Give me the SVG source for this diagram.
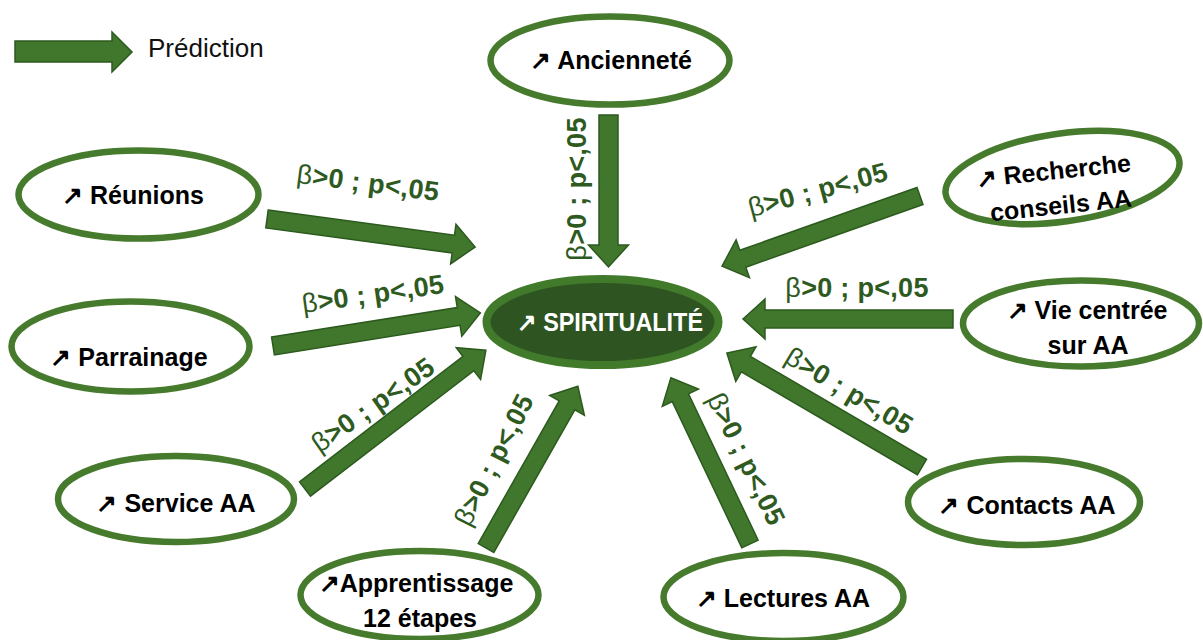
<svg xmlns="http://www.w3.org/2000/svg" width="1203" height="640" viewBox="0 0 1203 640">
<style>
.node{fill:#ffffff;stroke:#467a2c;stroke-width:6.5}
.center{fill:#2d5421;stroke:#427a2c;stroke-width:8}
.arr{fill:#41772c;stroke:#2c5a1e;stroke-width:1.5;stroke-linejoin:miter}
.nt{font-family:"Liberation Sans",Arial,sans-serif;font-weight:bold;font-size:25px;fill:#000;text-anchor:middle;dominant-baseline:central}
.ct{font-family:"Liberation Sans",Arial,sans-serif;font-weight:bold;font-size:25px;fill:#fff;text-anchor:middle;dominant-baseline:central}
.lb{font-family:"Liberation Sans",Arial,sans-serif;font-weight:bold;font-size:27px;fill:#2e5a1f;text-anchor:middle;dominant-baseline:central;letter-spacing:0.3px}
.beta{font-weight:normal}
.leg{font-family:"Liberation Sans",Arial,sans-serif;font-size:26px;fill:#111}
</style>
<rect width="1203" height="640" fill="#ffffff"/>

<g id="legend">
<path class="arr" d="M15,41 L112,41 L112,32 L132,52 L112,72 L112,62 L15,62 Z"/>
<text class="leg" x="148" y="57">Prédiction</text>
</g>

<g id="connectors">
<!-- Ancienneté -->
<path class="arr" transform="translate(608.5,115) rotate(90)" d="M0,-9.5 L130,-9.5 L130,-20 L152,0 L130,20 L130,9.5 L0,9.5 Z"/>
<text class="lb" transform="translate(577,189) rotate(-90)"><tspan class="beta">β</tspan>&gt;0 ; p&lt;,05</text>
<!-- Réunions -->
<path class="arr" transform="translate(267,219) rotate(7.67)" d="M0,-9 L188,-9 L188,-20 L210,0 L188,20 L188,9 L0,9 Z"/>
<text class="lb" transform="translate(368,183) rotate(7.3)"><tspan class="beta">β</tspan>&gt;0 ; p&lt;,05</text>
<!-- Parrainage -->
<path class="arr" transform="translate(273,346) rotate(-9.06)" d="M0,-9 L188,-9 L188,-20 L210,0 L188,20 L188,9 L0,9 Z"/>
<text class="lb" transform="translate(373,294) rotate(-8)"><tspan class="beta">β</tspan>&gt;0 ; p&lt;,05</text>
<!-- Service AA -->
<path class="arr" transform="translate(305,489) rotate(-37.5)" d="M0,-9 L206,-9 L206,-20 L228,0 L206,20 L206,9 L0,9 Z"/>
<text class="lb" transform="translate(373,405) rotate(-35)"><tspan class="beta">β</tspan>&gt;0 ; p&lt;,05</text>
<!-- Apprentissage -->
<path class="arr" transform="translate(486,548) rotate(-60.4)" d="M0,-9 L164,-9 L164,-20 L186,0 L164,20 L164,9 L0,9 Z"/>
<text class="lb" transform="translate(494,460) rotate(-63)"><tspan class="beta">β</tspan>&gt;0 ; p&lt;,05</text>
<!-- Lectures AA -->
<path class="arr" transform="translate(750,544) rotate(-115.45)" d="M0,-9 L162,-9 L162,-20 L184,0 L162,20 L162,9 L0,9 Z"/>
<text class="lb" transform="translate(746,459) rotate(64)"><tspan class="beta">β</tspan>&gt;0 ; p&lt;,05</text>
<!-- Contacts AA -->
<path class="arr" transform="translate(922,467) rotate(-149.7)" d="M0,-9 L204,-9 L204,-20 L226,0 L204,20 L204,9 L0,9 Z"/>
<text class="lb" transform="translate(849,391) rotate(31)"><tspan class="beta">β</tspan>&gt;0 ; p&lt;,05</text>
<!-- Vie centrée -->
<path class="arr" transform="translate(953,319) rotate(180)" d="M0,-9 L188,-9 L188,-20 L210,0 L188,20 L188,9 L0,9 Z"/>
<text class="lb" transform="translate(857,288)"><tspan class="beta">β</tspan>&gt;0 ; p&lt;,05</text>
<!-- Recherche -->
<path class="arr" transform="translate(920,196) rotate(160.5)" d="M0,-9 L188,-9 L188,-20 L210,0 L188,20 L188,9 L0,9 Z"/>
<text class="lb" transform="translate(818,190) rotate(-15)"><tspan class="beta">β</tspan>&gt;0 ; p&lt;,05</text>
</g>

<g id="node-spiritualite">
<ellipse class="center" cx="602.5" cy="322" rx="116" ry="43"/>
<text class="ct" x="610" y="322" textLength="186" lengthAdjust="spacingAndGlyphs">↗ SPIRITUALITÉ</text>
</g>
<g id="node-anciennete">
<ellipse class="node" cx="610" cy="60.5" rx="119.5" ry="44"/>
<text class="nt" x="611" y="60">↗ Ancienneté</text>
</g>
<g id="node-reunions">
<ellipse class="node" cx="138.5" cy="194.5" rx="120" ry="44"/>
<text class="nt" x="133" y="195">↗ Réunions</text>
</g>
<g id="node-parrainage">
<ellipse class="node" cx="130.5" cy="346.5" rx="119" ry="45"/>
<text class="nt" x="129" y="357">↗ Parrainage</text>
</g>
<g id="node-service">
<ellipse class="node" cx="176" cy="499" rx="118" ry="43"/>
<text class="nt" x="176" y="503">↗ Service AA</text>
</g>
<g id="node-apprentissage">
<ellipse class="node" cx="419.5" cy="595" rx="119" ry="44"/>
<text class="nt" x="416" y="583">↗Apprentissage</text>
<text class="nt" x="420" y="618">12 étapes</text>
</g>
<g id="node-lectures">
<ellipse class="node" cx="783.5" cy="597" rx="120" ry="44"/>
<text class="nt" x="783" y="598">↗ Lectures AA</text>
</g>
<g id="node-contacts">
<ellipse class="node" cx="1024" cy="502" rx="116" ry="43"/>
<text class="nt" x="1027" y="505">↗ Contacts AA</text>
</g>
<g id="node-vie">
<ellipse class="node" cx="1081" cy="323.5" rx="118" ry="43"/>
<text class="nt" x="1087" y="310">↗ Vie centrée</text>
<text class="nt" x="1088" y="345">sur AA</text>
</g>
<g id="node-recherche">
<ellipse class="node" cx="1062.5" cy="177.5" rx="118" ry="44" transform="rotate(-8 1062.5 177.5)"/>
<g transform="rotate(-6 1058 188)">
<text class="nt" x="1055" y="170">↗ Recherche</text>
<text class="nt" x="1059" y="205">conseils AA</text>
</g>
</g>
</svg>
